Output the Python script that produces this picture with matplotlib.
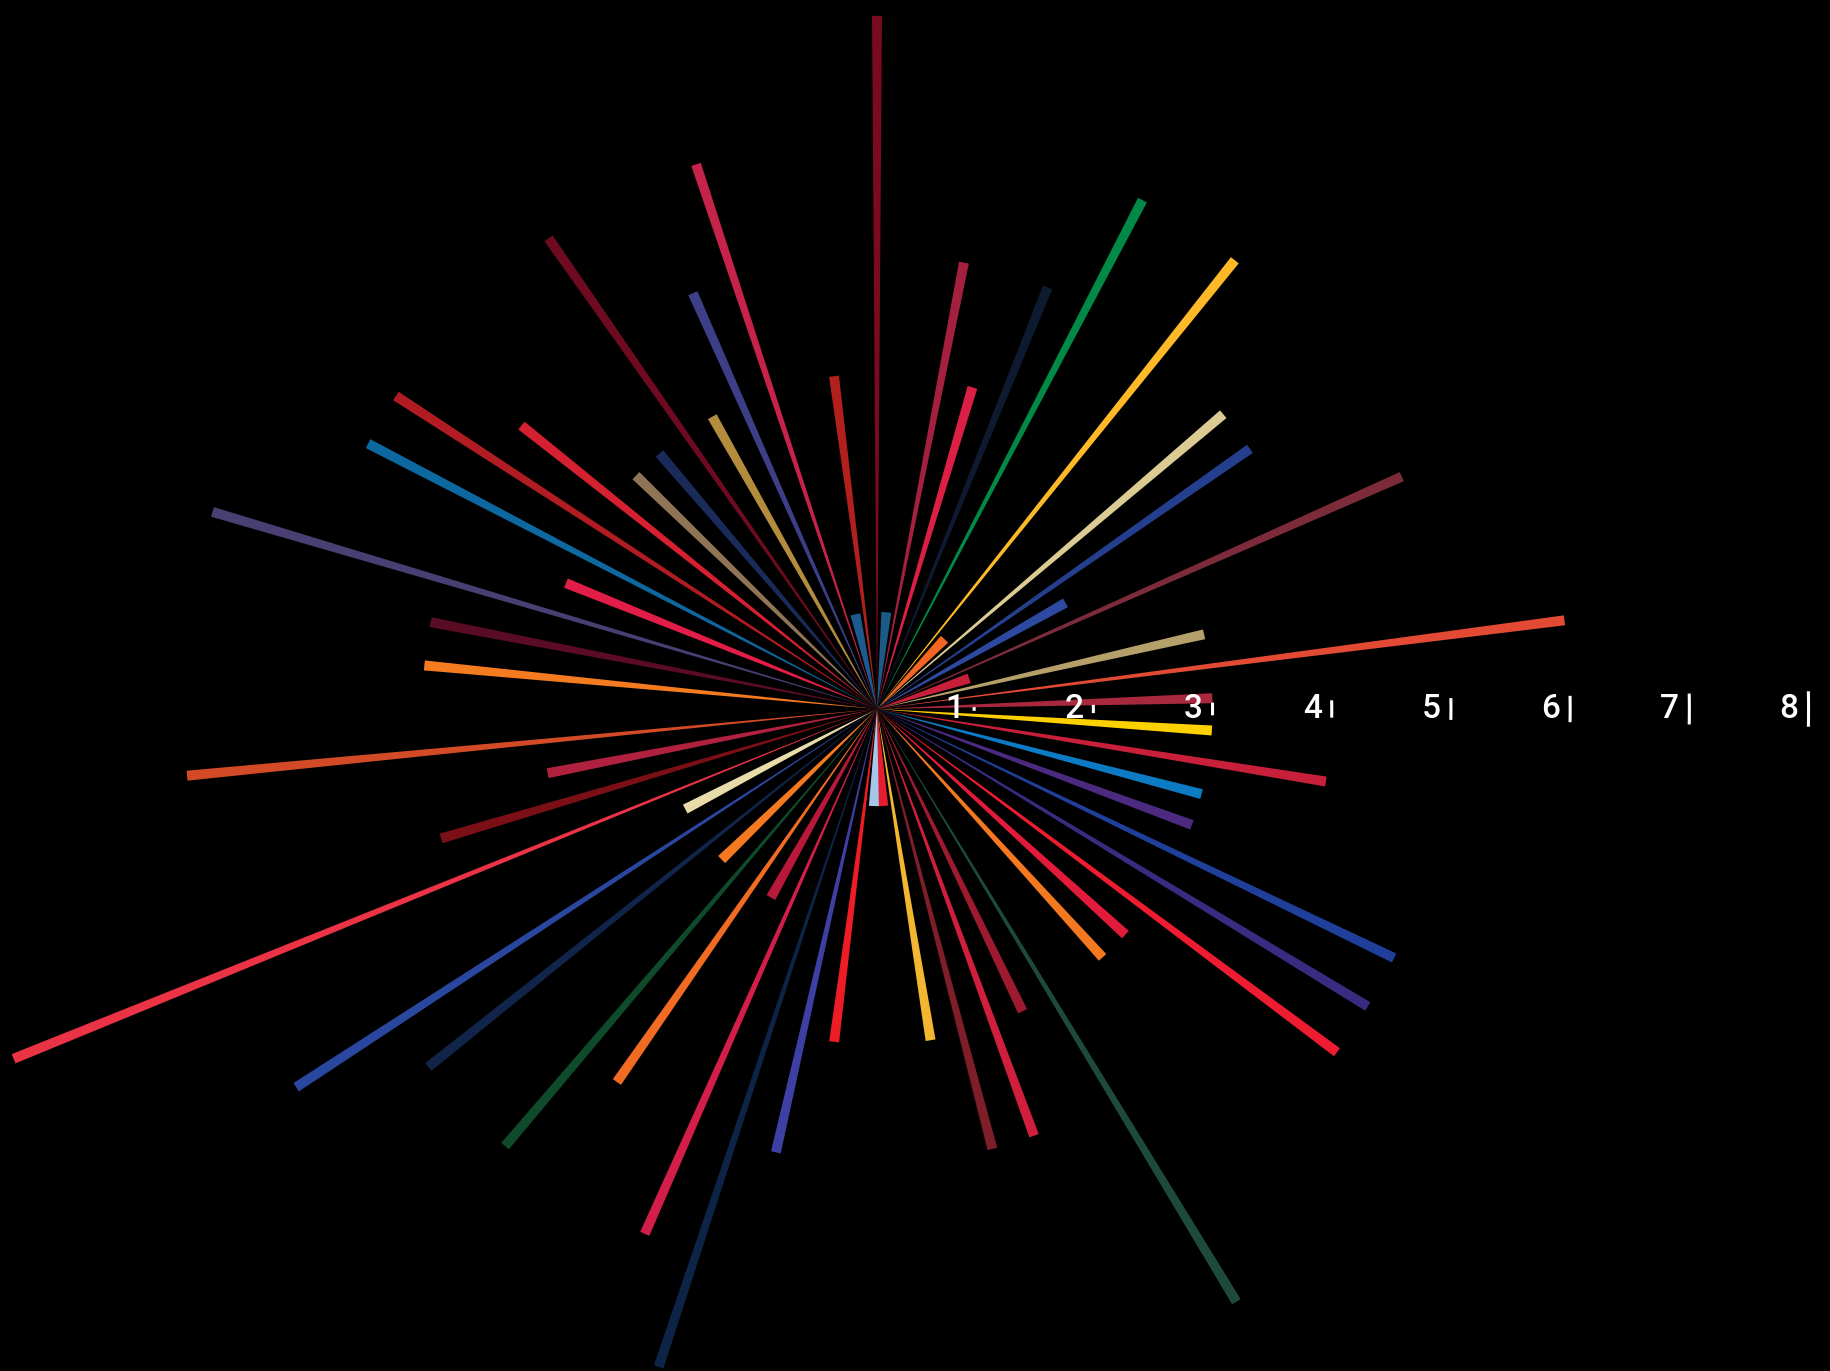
import numpy as np
import matplotlib
matplotlib.use("Agg")
import matplotlib.pyplot as plt

# one slot per spoke, clockwise from 12 o'clock; None = empty slot
values = [6, 1, 4, 3, 4, 5, None, 5, 1, 4,
          4, 2, 5, 1, 3, 6, 3, 3, 4, 3,
          3, 5, 5, 5, 3, 3, None, 6, 3, 4,
          4, 3, 1, 1, 3, 4, 6, 5, 2, 4,
          5, 2, 5, 6, 2, 8, 4, 3, 6, None,
          4, 4, 6, 3, 5, 5, 4, 3, 3, 5,
          3, 4, 5, 1, 3]

colors = ["#7a0a1e", "#1d5a85", "#a3203f", "#dc1f45", "#0e1a30", "#008a45", None, "#fdb927", "#f26522", "#dccb93",
          "#243f8e", "#2e4aa0", "#7c2b3a", "#c8203a", "#b5a06a", "#e24a33", "#a8283e", "#fdd000", "#c8203a", "#0c7bc4",
          "#4b2a80", "#1f3f9a", "#3a2a80", "#ee1c30", "#e31b3a", "#f47820", None, "#1d4a3a", "#9e1b2f", "#d01f3c",
          "#7e1e28", "#f2b630", "#e41e2e", "#a5c8ea", "#ee1c25", "#3e3fa3", "#0e2447", "#d41e4a", "#b8193a", "#f26b22",
          "#0f4a2a", "#f47920", "#11244a", "#2a47a0", "#e7dcaa", "#ea3344", "#7a0f16", "#b0203f", "#d24b26", None,
          "#f47b20", "#5a0c25", "#4a3f72", "#e11d48", "#0d68a0", "#b01c22", "#d42030", "#907456", "#1a2b5a", "#6e0b20",
          "#b48c3e", "#3c3f86", "#c6234a", "#1b5b8f", "#b2201e"]

scale_ticks = [1, 2, 3, 4, 5, 6, 7, 8]

# layout (pixels at dpi 100)
W, H = 1831, 1371
CX, CY = 877, 709          # centre of the burst
PX_PER_UNIT = 119.2
R0 = 0.185                 # radial value that sits at the centre
R_PX = 1000                # radius of the polar axes
END_W = 10                 # width of a spoke at its tip, px
STEP = np.deg2rad(5.51)

fig = plt.figure(figsize=(W / 100, H / 100), dpi=100, facecolor="black")
ax = fig.add_axes([(CX - R_PX) / W, 1 - (CY + R_PX) / H, 2 * R_PX / W, 2 * R_PX / H],
                  projection="polar")
ax.set_facecolor("black")
ax.set_theta_zero_location("N")
ax.set_theta_direction(-1)
ax.set_ylim(R0, R0 + R_PX / PX_PER_UNIT)
ax.axis("off")

idx = [i for i, v in enumerate(values) if v is not None]
theta = np.array(idx) * STEP
vals = np.array([values[i] for i in idx], dtype=float)
cols = [colors[i] for i in idx]
widths = END_W / (PX_PER_UNIT * (vals - R0))

ax.bar(theta, vals - R0, width=widths, bottom=R0, color=cols,
       linewidth=0, antialiased=True)

# scale along the 3 o'clock direction
half = 0.019
for t in scale_ticks:
    th = np.linspace(np.pi / 2 - half, np.pi / 2 + half, 10)
    ax.plot(th, np.full_like(th, t), color="white", lw=2.2, solid_capstyle="butt")
    ax.annotate(str(t), xy=(np.pi / 2, t), xytext=(-10, -9),
                textcoords="offset pixels", ha="right", va="baseline",
                color="white", fontsize=24, family="Roboto", fontweight="medium")

fig.savefig("out.png", dpi=100, facecolor="black")
